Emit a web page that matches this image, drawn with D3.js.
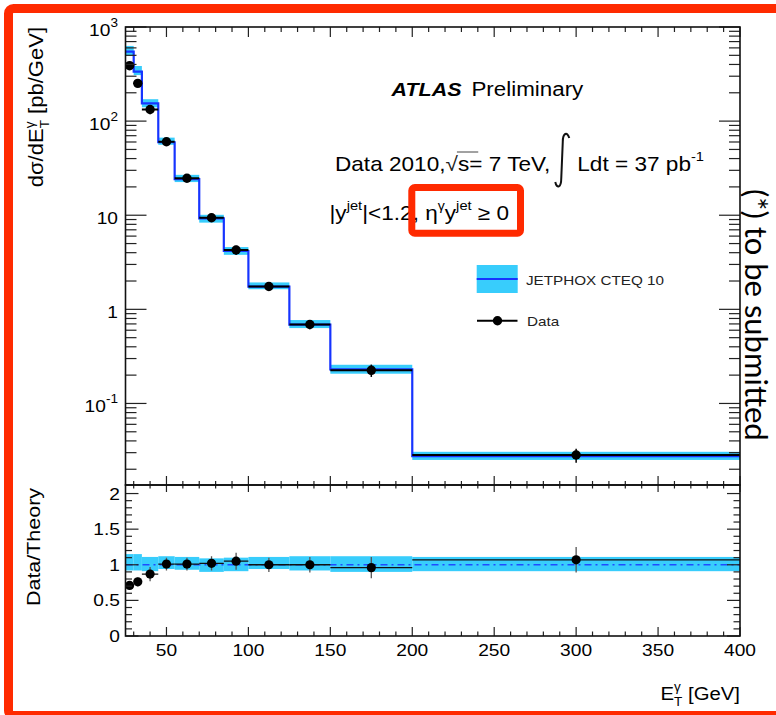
<!DOCTYPE html>
<html>
<head>
<meta charset="utf-8">
<script src="https://cdn.jsdelivr.net/npm/d3@7"></script>
<style>
  html, body { margin: 0; padding: 0; background: #fff; }
  svg { display: block; }
  text { font-family: "Liberation Sans", Arial, Helvetica, sans-serif; fill: #000; white-space: pre; }
</style>
</head>
<body>
<svg id="chart" width="776" height="715"></svg>
<script>
// ---- data: isolated-photon + jet cross section, E_T^gamma bins ----
const binEdges   = [25, 30, 35, 45, 55, 70, 85, 100, 125, 150, 200, 400];
const binCenters = [27.5, 32.5, 40, 50, 62.5, 77.5, 92.5, 112.5, 137.5, 175, 300];
// measured dsigma/dE_T [pb/GeV]
const dataXsec   = [388, 252, 133, 60.4, 24.7, 9.4, 4.27, 1.75, 0.69, 0.225, 0.0283];
const dataRelErr = [0.08, 0.08, 0.11, 0.09, 0.09, 0.10, 0.11, 0.10, 0.11, 0.15, 0.17];
// JETPHOX CTEQ 10 prediction [pb/GeV]
const theoryXsec = [547, 335, 154, 59.6, 24.2, 9.27, 4.17, 1.74, 0.687, 0.230, 0.0276];
// theory uncertainty band, relative to the prediction
const bandLo     = [0.92, 0.92, 0.91, 0.94, 0.93, 0.90, 0.91, 0.94, 0.92, 0.90, 0.91];
const bandHi     = [1.15, 1.15, 1.11, 1.12, 1.11, 1.09, 1.10, 1.11, 1.12, 1.12, 1.11];
// data / theory
const ratio      = [0.71, 0.76, 0.87, 1.01, 1.01, 1.02, 1.05, 1.00, 1.00, 0.96, 1.07];
const ratioErr   = [0.06, 0.06, 0.10, 0.09, 0.09, 0.10, 0.12, 0.10, 0.11, 0.15, 0.18];
// axis ticks
const xMajorTicks  = [50, 100, 150, 200, 250, 300, 350, 400];
const xTickLabels  = ["50", "100", "150", "200", "250", "300", "350", "400"];
const yLogMajors   = [1000, 100, 10, 1, 0.1];
const yLogLabels   = [["10", "3"], ["10", "2"], ["10", ""], ["1", ""], ["10", "-1"]];
const rMajorTicks  = [0, 0.5, 1, 1.5, 2];
const rTickLabels  = ["0", "0.5", "1", "1.5", "2"];

const CYAN = "#38cdfc", BLUE = "#1634ff", RED = "#ff2a00";
const SX = 1.13;               // horizontal stretch of the Helvetica-style text

const svg = d3.select("#chart");
svg.append("rect").attr("width", 776).attr("height", 715).attr("fill", "#fff");

// ---- scales ----
const x    = d3.scaleLinear().domain([25, 400]).range([125.5, 740]);
const yTop = d3.scaleLog().domain([0.0136, 1000]).range([485, 27]);
const yRat = d3.scaleLinear().domain([0, 2.12]).range([636, 485]);
const [xL, xR] = x.range();

// ---- text helpers ----
function txt(g, px, py, str, size, opt = {}) {
  const t = g.append("text")
    .attr("transform", `translate(${px},${py}) scale(${opt.sx || SX},1)`)
    .style("font-size", size + "px")
    .text(str);
  if (opt.anchor) t.attr("text-anchor", opt.anchor);
  if (opt.weight) t.style("font-weight", opt.weight);
  if (opt.italic) t.style("font-style", "italic");
  if (opt.fill) t.style("fill", opt.fill);
  return t;
}
// lays out pieces one after another; pieces with stack:true share the next x
function run(g, px, py, parts) {
  let cx = px, pending = 0;
  const placed = [];
  parts.forEach(p => {
    const t = txt(g, cx + (p.dx || 0), py + (p.dy || 0), p.t, p.size, p);
    const w = t.node().getComputedTextLength() * (p.sx || SX);
    placed.push({ node: t, x: cx + (p.dx || 0), w });
    if (p.stack) { pending = Math.max(pending, w); }
    else { cx += (p.dx || 0) + Math.max(w, pending); pending = 0; }
  });
  return { width: cx - px, end: cx, placed };
}

// ---- main panel ----
const main = svg.append("g");
const clipM = svg.append("clipPath").attr("id", "clipMain");
clipM.append("rect").attr("x", xL).attr("y", 27).attr("width", xR - xL).attr("height", 458);
const mp = main.append("g").attr("clip-path", "url(#clipMain)");

const bins = d3.range(binCenters.length);

// theory uncertainty band
mp.selectAll("rect.band").data(bins).join("rect")
  .attr("x", i => x(binEdges[i]))
  .attr("width", i => x(binEdges[i + 1]) - x(binEdges[i]))
  .attr("y", i => yTop(theoryXsec[i] * bandHi[i]))
  .attr("height", i => yTop(theoryXsec[i] * bandLo[i]) - yTop(theoryXsec[i] * bandHi[i]))
  .attr("fill", CYAN);

// theory histogram (step line)
const stepPts = bins.map(i => [binEdges[i], theoryXsec[i]]);
stepPts.push([binEdges[binEdges.length - 1], theoryXsec[theoryXsec.length - 1]]);
mp.append("path")
  .attr("d", d3.line().x(d => x(d[0])).y(d => yTop(d[1])).curve(d3.curveStepAfter)(stepPts))
  .attr("fill", "none").attr("stroke", BLUE).attr("stroke-width", 2.2);

// data: horizontal bin-width bars, vertical errors, markers
mp.selectAll("line.xerr").data(bins).join("line")
  .attr("x1", i => x(binEdges[i])).attr("x2", i => x(binEdges[i + 1]))
  .attr("y1", i => yTop(dataXsec[i])).attr("y2", i => yTop(dataXsec[i]))
  .attr("stroke", "#000").attr("stroke-width", 2);
mp.selectAll("line.yerr").data(bins).join("line")
  .attr("x1", i => x(binCenters[i])).attr("x2", i => x(binCenters[i]))
  .attr("y1", i => yTop(dataXsec[i] * (1 - dataRelErr[i])))
  .attr("y2", i => yTop(dataXsec[i] * (1 + dataRelErr[i])))
  .attr("stroke", "#000").attr("stroke-width", 1.5);
mp.selectAll("circle").data(bins).join("circle")
  .attr("cx", i => x(binCenters[i])).attr("cy", i => yTop(dataXsec[i]))
  .attr("r", 4.7).attr("fill", "#000");

// ---- ratio panel ----
const clipR = svg.append("clipPath").attr("id", "clipRat");
clipR.append("rect").attr("x", xL).attr("y", 485).attr("width", xR - xL).attr("height", 151);
const rp = svg.append("g").attr("clip-path", "url(#clipRat)");

rp.selectAll("rect").data(bins).join("rect")
  .attr("x", i => x(binEdges[i]))
  .attr("width", i => x(binEdges[i + 1]) - x(binEdges[i]))
  .attr("y", i => yRat(bandHi[i]))
  .attr("height", i => yRat(bandLo[i]) - yRat(bandHi[i]))
  .attr("fill", CYAN);
rp.append("line")
  .attr("x1", xL).attr("x2", xR).attr("y1", yRat(1)).attr("y2", yRat(1))
  .attr("stroke", "#1f4cff").attr("stroke-width", 1.5).attr("stroke-dasharray", "7,4,2,4");
rp.selectAll("line.rx").data(bins).join("line")
  .attr("x1", i => x(binEdges[i])).attr("x2", i => x(binEdges[i + 1]))
  .attr("y1", i => yRat(ratio[i])).attr("y2", i => yRat(ratio[i]))
  .attr("stroke", "#111").attr("stroke-width", 1.3);
rp.selectAll("line.ry").data(bins).join("line")
  .attr("x1", i => x(binCenters[i])).attr("x2", i => x(binCenters[i]))
  .attr("y1", i => yRat(ratio[i] - ratioErr[i])).attr("y2", i => yRat(ratio[i] + ratioErr[i]))
  .attr("stroke", "#555").attr("stroke-width", 1.3);
rp.selectAll("circle").data(bins).join("circle")
  .attr("cx", i => x(binCenters[i])).attr("cy", i => yRat(ratio[i]))
  .attr("r", 4.6).attr("fill", "#000");

// ---- frames and ticks ----
const axes = svg.append("g").attr("stroke", "#222").attr("stroke-width", 1.2);
function tick(x1, y1, x2, y2) {
  axes.append("line").attr("x1", x1).attr("y1", y1).attr("x2", x2).attr("y2", y2);
}
const xMinor = d3.range(30, 401, 10).filter(v => v % 50 !== 0);

// main panel x ticks (top pointing down, bottom pointing up)
xMajorTicks.forEach(v => { tick(x(v), 27, x(v), 37); tick(x(v), 485, x(v), 476); });
xMinor.forEach(v => { tick(x(v), 27, x(v), 32); tick(x(v), 485, x(v), 481); });
// ratio panel x ticks
xMajorTicks.forEach(v => { tick(x(v), 485, x(v), 492); tick(x(v), 636, x(v), 627); });
xMinor.forEach(v => { tick(x(v), 485, x(v), 488.5); tick(x(v), 636, x(v), 631.5); });

// main panel log ticks
const [ylo, yhi] = yTop.domain();
yLogMajors.forEach(v => { tick(xL, yTop(v), xL + 21, yTop(v)); tick(xR, yTop(v), xR - 21, yTop(v)); });
d3.range(-2, 3).forEach(e => {
  d3.range(2, 10).forEach(m => {
    const v = m * Math.pow(10, e);
    if (v < ylo || v > yhi) return;
    tick(xL, yTop(v), xL + 11, yTop(v)); tick(xR, yTop(v), xR - 11, yTop(v));
  });
});
// ratio ticks
d3.range(0, 21).forEach(k => {
  const v = k / 10, len = (k % 5 === 0) ? 13 : 6.5;
  tick(xL, yRat(v), xL + len, yRat(v)); tick(xR, yRat(v), xR - len, yRat(v));
});

// frames
svg.append("rect").attr("x", xL).attr("y", 27).attr("width", xR - xL).attr("height", 458)
  .attr("fill", "none").attr("stroke", "#111").attr("stroke-width", 1.6);
svg.append("rect").attr("x", xL).attr("y", 485).attr("width", xR - xL).attr("height", 151)
  .attr("fill", "none").attr("stroke", "#111").attr("stroke-width", 1.6);

// ---- tick labels ----
const lab = svg.append("g");
yLogMajors.forEach((v, i) => {
  const [base, ex] = yLogLabels[i];
  const yy = yTop(v) + 8.5;
  const g = lab.append("g");
  const r = run(g, 0, yy, [
    { t: base, size: 17 },
    ...(ex ? [{ t: ex, size: 12, dy: -8.5 }] : [])
  ]);
  g.attr("transform", `translate(${118 - r.width},0)`);
});
rMajorTicks.forEach((v, i) => {
  txt(lab, 120, yRat(v) + 6, rTickLabels[i], 17, { anchor: "end" });
});
xMajorTicks.forEach((v, i) => {
  txt(lab, x(v), 656, xTickLabels[i], 17, { anchor: "middle" });
});

// ---- axis titles ----
{
  const g = svg.append("g");
  const r = run(g, 0, 700, [
    { t: "E", size: 18 },
    { t: "γ", size: 12, dy: -9, stack: true },
    { t: "T", size: 12, dy: 6 },
    { t: " [GeV]", size: 18 }
  ]);
  g.attr("transform", `translate(${740 - r.width},0)`);
}
{
  const outer = svg.append("g").attr("transform", "translate(43,27) rotate(-90)");
  const g = outer.append("g");
  const r = run(g, 0, 0, [
    { t: "dσ/dE", size: 19.5 },
    { t: "γ", size: 12, dy: -9, stack: true },
    { t: "T", size: 12, dy: 6 },
    { t: " [pb/GeV]", size: 19.5 }
  ]);
  g.attr("transform", `translate(${-r.width},0)`);
}
{
  const g = svg.append("g").attr("transform", "translate(40,547) rotate(-90)");
  txt(g, 0, 0, "Data/Theory", 19, { anchor: "middle" });
}

// ---- annotations ----
{
  const g = svg.append("g");
  run(g, 391.5, 96, [
    { t: "ATLAS", size: 19, weight: "bold", italic: true },
    { t: "Preliminary", size: 19.8, dx: 10 }
  ]);
}
{
  const g = svg.append("g");
  const r1 = run(g, 335, 171, [
    { t: "Data 2010,", size: 20 },
    { t: "√", size: 20, fill: "#222" },
    { t: "s", size: 20 },
    { t: "= 7 TeV,", size: 20 }
  ]);
  // vinculum over the "s"
  const sEl = r1.placed[2];
  g.append("line").attr("x1", sEl.x - 1).attr("x2", sEl.x + sEl.w + 9)
    .attr("y1", 152).attr("y2", 152).attr("stroke", "#444").attr("stroke-width", 1);
  // integral sign
  const ix = r1.end + 5;
  g.append("path")
    .attr("d", `M${ix + 14},${138} C${ix + 12},${131} ${ix + 7.5},${133} ${ix + 7.5},${142}
                L${ix + 6},${178} C${ix + 6},${188} ${ix + 1.5},${189} ${ix},${182}`)
    .attr("fill", "none").attr("stroke", "#111").attr("stroke-width", 2);
  run(g, ix + 22, 171, [
    { t: "Ldt = 37 pb", size: 20 },
    { t: "-1", size: 13, dy: -10 }
  ]);
}
{
  const g = svg.append("g");
  run(g, 329.5, 219.5, [
    { t: "|y", size: 20 },
    { t: "jet", size: 13, dy: -10 },
    { t: "|<1.2, η", size: 20 },
    { t: "γ", size: 12.5, dy: -10 },
    { t: "y", size: 20 },
    { t: "jet", size: 13, dy: -10 },
    { t: " ≥ 0", size: 20 }
  ]);
}

// ---- legend ----
{
  const g = svg.append("g");
  g.append("rect").attr("x", 476.7).attr("y", 265).attr("width", 41).attr("height", 28).attr("fill", CYAN);
  g.append("line").attr("x1", 476.7).attr("x2", 517.7).attr("y1", 279).attr("y2", 279)
    .attr("stroke", BLUE).attr("stroke-width", 2);
  txt(g, 526, 284.5, "JETPHOX CTEQ 10", 13.5, { fill: "#222" });
  g.append("line").attr("x1", 477).attr("x2", 517.5).attr("y1", 320.7).attr("y2", 320.7)
    .attr("stroke", "#000").attr("stroke-width", 2);
  g.append("circle").attr("cx", 497.5).attr("cy", 320.7).attr("r", 4.7).attr("fill", "#000");
  txt(g, 527, 326, "Data", 13.5, { fill: "#222" });
}

// ---- side note ----
svg.append("text")
  .attr("transform", "translate(745,189) rotate(90)")
  .style("font-family", "Lato, 'Open Sans', sans-serif")
  .style("font-size", "31px")
  .text("(*) to be submitted");

// ---- highlight boxes ----
svg.append("rect").attr("x", 411.8).attr("y", 187.5).attr("width", 108.7).attr("height", 45.7)
  .attr("rx", 3).attr("fill", "none").attr("stroke", RED).attr("stroke-width", 7);
svg.append("rect").attr("x", 8.5).attr("y", 8.5).attr("width", 800).attr("height", 707)
  .attr("rx", 5).attr("fill", "none").attr("stroke", RED).attr("stroke-width", 9);
</script>
</body>
</html>
